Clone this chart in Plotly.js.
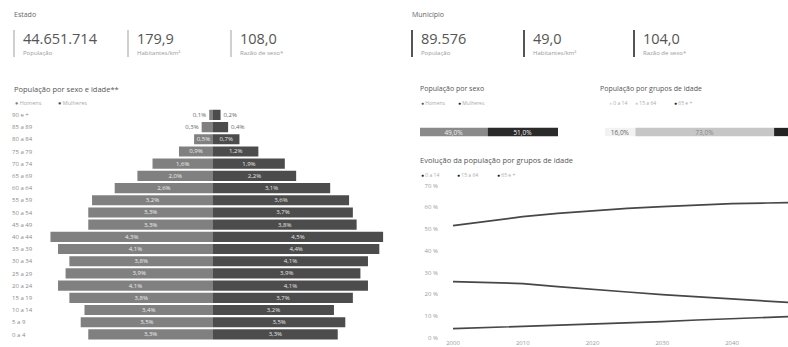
<!DOCTYPE html>
<html><head><meta charset="utf-8">
<script src="https://cdn.plot.ly/plotly-3.0.1.min.js"></script>
<style>html,body{margin:0;padding:0;background:#fff;}#chart{width:788px;height:347px;}</style>
</head><body><div id="chart"></div>
<script>
// ---- data ----
const stateKpiValues = ["44.651.714", "179,9", "108,0"];
const cityKpiValues = ["89.576", "49,0", "104,0"];
const kpiLabels = ["População", "Habitantes/km²", "Razão de sexo*"];

const ageGroups = ["0 a 4","5 a 9","10 a 14","15 a 19","20 a 24","25 a 29","30 a 34","35 a 39","40 a 44","45 a 49","50 a 54","55 a 59","60 a 64","65 a 69","70 a 74","75 a 79","80 a 84","85 a 89","90 e +"];
const menPct   = [3.3,3.5,3.4,3.8,4.1,3.9,3.8,4.1,4.3,3.3,3.3,3.2,2.6,2.0,1.6,0.9,0.5,0.3,0.1];
const womenPct = [3.3,3.5,3.2,3.7,4.1,3.9,4.1,4.4,4.5,3.8,3.7,3.6,3.1,2.2,1.9,1.2,0.7,0.4,0.2];

const sexLabels = ["Homens", "Mulheres"];
const sexShare = [49.0, 51.0];

const groupLabels = ["0 a 14", "15 a 64", "65 e +"];
const groupShare = [16.0, 73.0, 11.0];

const years = [2000,2005,2010,2015,2020,2025,2030,2035,2040,2045,2050];
const evo0to14  = [25.8,25.4,24.9,23.5,22.1,21.0,19.8,18.9,18.0,16.9,15.8];
const evo15to64 = [51.6,53.8,55.7,57.2,58.5,59.5,60.3,61.1,61.7,62.0,62.3];
const evo65plus = [4.1,4.6,5.1,5.7,6.4,6.9,7.4,8.1,8.8,9.4,9.9];

// ---- helpers ----
const W = 788, H = 347;
const fx = px => px / W;
const fy = py => 1 - py / H;
const pct = v => v.toFixed(1).replace('.', ',') + '%';
const FONT = 'Open Sans, sans-serif';

const cMen = '#808080', cWomen = '#4c4c4c';
const cSexMen = '#8a8a8a', cSexWomen = '#2a2a2a';
const cGroups = ['#f2f2f2', '#c6c6c6', '#232323'];
const cEvo = ['#474747', '#474747', '#474747'];

const pxPerPct = 37.8, center = 213;
const posFor = v => (v * pxPerPct > 17 ? 'inside' : 'outside');

const traces = [];
// pyramid
traces.push({type:'bar', orientation:'h', name:'Homens', y:ageGroups, x:menPct.map(v=>-v),
  text:menPct.map(pct), textposition:menPct.map(posFor), insidetextanchor:'middle', constraintext:'none',
  insidetextfont:{size:6, color:'#eeeeee', family:FONT}, outsidetextfont:{size:6, color:'#666', family:FONT},
  marker:{color:cMen}, xaxis:'x', yaxis:'y', hoverinfo:'skip', showlegend:false, cliponaxis:false});
traces.push({type:'bar', orientation:'h', name:'Mulheres', y:ageGroups, x:womenPct,
  text:womenPct.map(pct), textposition:womenPct.map(posFor), insidetextanchor:'middle', constraintext:'none',
  insidetextfont:{size:6, color:'#e6e6e6', family:FONT}, outsidetextfont:{size:6, color:'#666', family:FONT},
  marker:{color:cWomen}, xaxis:'x', yaxis:'y', hoverinfo:'skip', showlegend:false, cliponaxis:false});
// sex bar
sexLabels.forEach((n,i)=>traces.push({type:'bar', orientation:'h', name:n, y:['s'], x:[sexShare[i]],
  text:[pct(sexShare[i])], textposition:'inside', insidetextanchor:'middle', constraintext:'none',
  insidetextfont:{size:6.5, color:'#f2f2f2', family:FONT}, marker:{color:[cSexMen,cSexWomen][i]},
  xaxis:'x2', yaxis:'y2', hoverinfo:'skip', showlegend:false}));
// group bar (last segment runs past the right edge, its label is not visible)
groupLabels.forEach((n,i)=>traces.push({type:'bar', orientation:'h', name:n, y:['g'], x:[groupShare[i]],
  text:[i < 2 ? pct(groupShare[i]) : ''], textposition:i < 2 ? 'inside' : 'none', insidetextanchor:'middle', constraintext:'none',
  insidetextfont:{size:6.5, color:['#666','#888','#ddd'][i], family:FONT}, marker:{color:cGroups[i]},
  xaxis:'x3', yaxis:'y3', hoverinfo:'skip', showlegend:false}));
// evolution
[evo0to14, evo15to64, evo65plus].forEach((s,i)=>traces.push({type:'scatter', mode:'lines', name:groupLabels[i],
  x:years, y:s, line:{color:cEvo[i], width:1.7}, xaxis:'x4', yaxis:'y4', hoverinfo:'skip', showlegend:false}));

// ---- annotations ----
const ann = [];
function txt(x, y, text, size, color, opts) {
  ann.push(Object.assign({xref:'paper', yref:'paper', x:fx(x), y:fy(y), text:text, showarrow:false,
    xanchor:'left', yanchor:'middle', font:{family:FONT, size:size, color:color}}, opts||{}));
}
const shapes = [];
function kpis(title, tx, barXs, values, barColor, barW, valColor) {
  txt(tx, 15, title, 7, '#666');
  barXs.forEach((bx,i)=>{
    shapes.push({type:'line', xref:'paper', yref:'paper', x0:fx(bx), x1:fx(bx), y0:fy(30), y1:fy(57), line:{color:barColor, width:barW}});
    txt(bx+7, 39, values[i], 14.5, valColor);
    txt(bx+7, 53, kpiLabels[i], 6, '#9a9a9a');
  });
}
kpis('Estado', 12, [14, 128, 231], stateKpiValues, '#b0b0b0', 1.2, '#555');
kpis('Município', 410, [412, 524, 634], cityKpiValues, '#555', 2, '#555');

txt(12, 89, 'População por sexo e idade**', 7.5, '#555');
txt(13, 103, '<span style="color:'+cMen+'">●</span> ' + sexLabels[0], 5.5, '#aaa');
txt(56, 103, '<span style="color:'+cWomen+'">●</span> ' + sexLabels[1], 5.5, '#aaa');

txt(418, 88, 'População por sexo', 7, '#555');
txt(419, 103, '<span style="color:#555">●</span> ' + sexLabels[0], 5, '#aaa');
txt(456, 103, '<span style="color:#222">●</span> ' + sexLabels[1], 5, '#aaa');

txt(598, 88, 'População por grupos de idade', 7, '#555');
txt(607, 103, '<span style="color:#ddd">●</span> ' + groupLabels[0], 5, '#aaa');
txt(633, 103, '<span style="color:#ccc">●</span> ' + groupLabels[1], 5, '#aaa');
txt(672, 103, '<span style="color:#222">●</span> ' + groupLabels[2], 5, '#aaa');

txt(418, 160, 'Evolução da população por grupos de idade', 7.5, '#555');
txt(419, 175, '<span style="color:#222">●</span> ' + groupLabels[0], 5, '#aaa');
txt(455, 175, '<span style="color:#222">●</span> ' + groupLabels[1], 5, '#aaa');
txt(495, 175, '<span style="color:#222">●</span> ' + groupLabels[2], 5, '#aaa');

// ---- layout ----
const pyrL = 45, pyrR = 390;
const evoPxPerYr = 6.975, evoL = 445;
const evoPxPerPct = 2.171, evoBottom = 337.6, evoTop = 181;

const noAxis = {showgrid:false, zeroline:false, showticklabels:false, showline:false, ticks:''};
const layout = {
  width: W, height: H, margin:{l:0,r:0,t:0,b:0}, paper_bgcolor:'#fff', plot_bgcolor:'rgba(0,0,0,0)',
  barmode:'relative', bargap:0.17, showlegend:false, font:{family:FONT},
  xaxis: Object.assign({}, noAxis, {domain:[fx(pyrL), fx(pyrR)], range:[(pyrL-center)/pxPerPct, (pyrR-center)/pxPerPct], anchor:'y', fixedrange:true}),
  yaxis: {domain:[fy(340.5), fy(108.8)], anchor:'free', position:fx(11), side:'right', showgrid:false, zeroline:false,
          showline:false, ticks:'', tickfont:{size:6, color:'#8a8a8a', family:FONT}, categoryorder:'array', categoryarray:ageGroups},
  xaxis2: Object.assign({}, noAxis, {domain:[fx(420), fx(558)], range:[0,100], anchor:'y2'}),
  yaxis2: Object.assign({}, noAxis, {domain:[fy(137), fy(127)], anchor:'x2'}),
  xaxis3: Object.assign({}, noAxis, {domain:[fx(605), 1], range:[0, (W-605)/1.9], anchor:'y3'}),
  yaxis3: Object.assign({}, noAxis, {domain:[fy(137), fy(127)], anchor:'x3'}),
  xaxis4: {domain:[fx(evoL), 1], range:[2000-(453-evoL)/evoPxPerYr, 2000+(W-453)/evoPxPerYr], anchor:'y4',
           tick0:2000, dtick:10, showgrid:false, zeroline:false, showline:false, ticks:'',
           tickfont:{size:6, color:'#9a9a9a', family:FONT}},
  yaxis4: {domain:[fy(evoBottom), fy(evoTop)], range:[0, (evoBottom-evoTop)/evoPxPerPct], anchor:'x4',
           tick0:0, dtick:10, ticksuffix:' %', showgrid:false, zeroline:false, showline:false, ticks:'',
           ticklabelstandoff:6, tickfont:{size:6, color:'#9a9a9a', family:FONT}},
  annotations: ann, shapes: shapes
};
Plotly.newPlot('chart', traces, layout, {staticPlot:true, displayModeBar:false});
</script></body></html>
